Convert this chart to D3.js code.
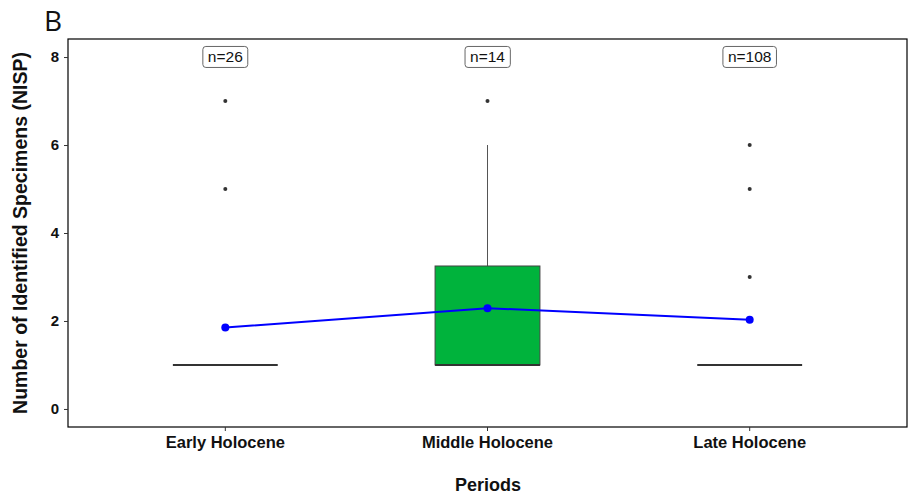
<!DOCTYPE html>
<html>
<head>
<meta charset="utf-8">
<script src="https://cdn.jsdelivr.net/npm/d3@7"></script>
<style>
  body { margin: 0; background: white; }
  text { font-family: "Liberation Sans", Arial, sans-serif; }
</style>
</head>
<body>
<div id="chart"></div>
<script>
// values
const periods = ["Early Holocene", "Middle Holocene", "Late Holocene"];
const counts = [26, 14, 108];
const q1 = [1, 1, 1];
const medians = [1, 1, 1];
const q3 = [1, 3.25, 1];
const whiskerLow = [1, 1, 1];
const whiskerHigh = [1, 6, 1];
const outliers = [[5, 7], [7], [3, 5, 6]];
const means = [1.85, 2.29, 2.03];
const yTicks = [0, 2, 4, 6, 8];

const width = 910, height = 495;
const margin = {left: 68, right: 3, top: 39, bottom: 68};

const svg = d3.select("#chart").append("svg")
    .attr("width", width)
    .attr("height", height);

const x = d3.scaleBand()
    .domain(periods)
    .range([margin.left, width - margin.right])
    .paddingOuter(0.1)
    .paddingInner(0);

// ggplot-like padding round the data
const y = d3.scaleLinear()
    .domain([-0.41, 8.41])
    .range([height - margin.bottom, margin.top]);

const boxW = x.bandwidth() * 0.4;
const cx = (d) => x(d) + x.bandwidth() / 2;

// panel
svg.append("rect")
    .attr("x", margin.left)
    .attr("y", margin.top)
    .attr("width", width - margin.left - margin.right)
    .attr("height", height - margin.top - margin.bottom)
    .attr("fill", "white")
    .attr("stroke", "black")
    .attr("stroke-width", 1.2);

// axes
const yAxis = svg.append("g")
    .attr("transform", "translate(" + margin.left + ",0)")
    .call(d3.axisLeft(y).tickValues(yTicks).tickSize(4).tickPadding(5));
const xAxis = svg.append("g")
    .attr("transform", "translate(0," + (height - margin.bottom) + ")")
    .call(d3.axisBottom(x).tickSize(4).tickPadding(5));
[yAxis, xAxis].forEach((g) => {
    g.select(".domain").remove();
    g.selectAll(".tick line").attr("stroke", "#333").attr("stroke-width", 1);
    g.selectAll(".tick text")
        .attr("fill", "#111")
        .style("font-weight", "bold");
});
yAxis.selectAll(".tick text").style("font-size", "15px");
xAxis.selectAll(".tick text").style("font-size", "16.5px");

// whiskers
periods.forEach((p, i) => {
    svg.append("line")
        .attr("x1", cx(p)).attr("x2", cx(p))
        .attr("y1", y(q3[i])).attr("y2", y(whiskerHigh[i]))
        .attr("stroke", "#555").attr("stroke-width", 1);
    svg.append("line")
        .attr("x1", cx(p)).attr("x2", cx(p))
        .attr("y1", y(q1[i])).attr("y2", y(whiskerLow[i]))
        .attr("stroke", "#555").attr("stroke-width", 1);

    // box
    svg.append("rect")
        .attr("x", cx(p) - boxW / 2)
        .attr("y", y(q3[i]))
        .attr("width", boxW)
        .attr("height", y(q1[i]) - y(q3[i]))
        .attr("fill", "#00B33C")
        .attr("stroke", "#444")
        .attr("stroke-width", 1);

    // median
    svg.append("line")
        .attr("x1", cx(p) - boxW / 2).attr("x2", cx(p) + boxW / 2)
        .attr("y1", y(medians[i])).attr("y2", y(medians[i]))
        .attr("stroke", "#333").attr("stroke-width", 2);

    // outliers
    svg.selectAll(null)
        .data(outliers[i])
        .enter().append("circle")
        .attr("cx", cx(p))
        .attr("cy", (d) => y(d))
        .attr("r", 2)
        .attr("fill", "#333");
});

// mean line and points
svg.append("path")
    .datum(means)
    .attr("fill", "none")
    .attr("stroke", "#0000FF")
    .attr("stroke-width", 2)
    .attr("d", d3.line()
        .x((d, i) => cx(periods[i]))
        .y((d) => y(d)));
svg.selectAll(null)
    .data(means)
    .enter().append("circle")
    .attr("cx", (d, i) => cx(periods[i]))
    .attr("cy", (d) => y(d))
    .attr("r", 4)
    .attr("fill", "#0000FF");

// n labels
periods.forEach((p, i) => {
    const g = svg.append("g").attr("transform", "translate(" + cx(p) + "," + y(8) + ")");
    const t = g.append("text")
        .attr("text-anchor", "middle")
        .attr("dy", "0.35em")
        .style("font-size", "15.5px")
        .attr("fill", "#111")
        .text("n=" + counts[i]);
    const bb = t.node().getBBox();
    g.insert("rect", "text")
        .attr("x", bb.x - 5)
        .attr("y", bb.y - 2)
        .attr("width", bb.width + 10)
        .attr("height", bb.height + 4)
        .attr("rx", 3)
        .attr("fill", "white")
        .attr("stroke", "#666")
        .attr("stroke-width", 1);
});

// titles
svg.append("text")
    .attr("x", 488)
    .attr("y", 491)
    .attr("text-anchor", "middle")
    .style("font-size", "18px")
    .style("font-weight", "bold")
    .attr("fill", "#111")
    .text("Periods");

svg.append("text")
    .attr("transform", "translate(27," + y(4) + ") rotate(-90)")
    .attr("text-anchor", "middle")
    .style("font-size", "19.5px")
    .style("font-weight", "bold")
    .attr("fill", "#111")
    .text("Number of Identified Specimens (NISP)");

svg.append("text")
    .attr("x", 44)
    .attr("y", 31)
    .style("font-size", "28px")
    .style("font-family", "'Open Sans', 'DejaVu Sans', sans-serif")
    .attr("fill", "#111")
    .text("B");
</script>
</body>
</html>
